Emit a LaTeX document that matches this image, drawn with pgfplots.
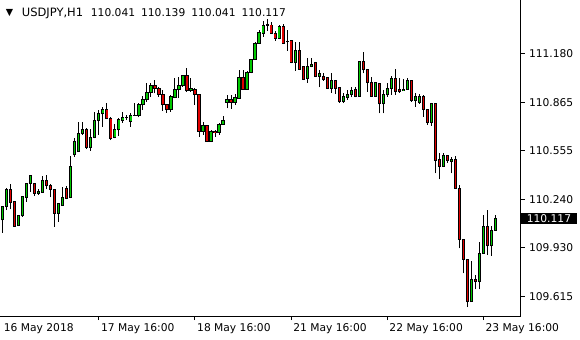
\documentclass[border=0pt]{standalone}
\usepackage{fontspec}
\setmainfont{DejaVu Sans}
\usepackage{pgfplots}
\usepackage{pgfplotstable}
\pgfplotsset{compat=1.18}
\definecolor{bull}{RGB}{0,200,0}
\definecolor{bear}{RGB}{225,0,0}
\newcommand\mt{\fontsize{10.7bp}{12bp}\selectfont}

\pgfplotstableread{
i o h l c
0 110.108 110.198 110.026 110.194
1 110.194 110.312 110.172 110.305
2 110.305 110.340 110.177 110.219
3 110.226 110.232 110.065 110.069
4 110.071 110.134 110.069 110.134
5 110.134 110.262 110.129 110.258
6 110.254 110.348 110.226 110.344
7 110.344 110.397 110.290 110.397
8 110.344 110.348 110.262 110.280
9 110.280 110.305 110.269 110.290
10 110.286 110.393 110.280 110.365
11 110.365 110.397 110.305 110.327
12 110.327 110.340 110.254 110.305
13 110.305 110.305 110.065 110.151
14 110.151 110.219 110.097 110.211
15 110.204 110.318 110.204 110.254
16 110.312 110.327 110.241 110.248
17 110.254 110.520 110.248 110.451
18 110.526 110.633 110.515 110.612
19 110.547 110.740 110.547 110.666
20 110.666 110.740 110.655 110.687
21 110.687 110.698 110.563 110.573
22 110.576 110.691 110.554 110.639
23 110.640 110.804 110.633 110.751
24 110.747 110.815 110.655 110.790
25 110.790 110.833 110.708 110.820
26 110.820 110.862 110.756 110.762
27 110.762 110.768 110.622 110.633
28 110.640 110.725 110.633 110.687
29 110.687 110.762 110.648 110.756
30 110.751 110.804 110.734 110.768
31 110.765 110.783 110.751 110.767
32 110.740 110.794 110.708 110.783
33 110.780 110.862 110.777 110.783
34 110.783 110.862 110.768 110.848
35 110.848 110.905 110.815 110.880
36 110.880 110.991 110.869 110.929
37 110.929 110.987 110.901 110.976
38 110.976 111.008 110.923 110.955
39 110.955 110.961 110.901 110.916
40 110.918 110.944 110.811 110.848
41 110.848 110.848 110.798 110.820
42 110.819 110.912 110.804 110.899
43 110.895 111.019 110.891 110.950
44 110.950 111.030 110.891 110.976
45 110.972 111.041 110.965 111.036
46 111.036 111.084 110.933 110.938
47 110.942 111.019 110.933 110.955
48 110.950 110.959 110.848 110.916
49 110.916 110.916 110.644 110.680
50 110.680 110.740 110.655 110.714
51 110.714 110.719 110.608 110.612
52 110.612 110.687 110.608 110.680
53 110.680 110.687 110.644 110.672
54 110.672 110.730 110.655 110.723
55 110.723 110.779 110.719 110.745
56 110.865 110.912 110.826 110.880
57 110.880 110.912 110.822 110.865
58 110.865 110.916 110.848 110.895
59 110.891 111.073 110.886 111.023
60 111.023 111.073 110.946 110.950
61 110.950 111.066 110.946 111.058
62 111.058 111.143 111.051 111.137
63 111.141 111.253 111.137 111.244
64 111.244 111.330 111.244 111.313
65 111.309 111.390 111.287 111.356
66 111.360 111.399 111.325 111.364
67 111.362 111.383 111.304 111.309
68 111.309 111.325 111.261 111.277
69 111.277 111.362 111.270 111.351
70 111.351 111.369 111.244 111.244
71 111.255 111.330 111.197 111.257
72 111.261 111.261 111.116 111.120
73 111.120 111.255 111.068 111.201
74 111.201 111.255 111.073 111.077
75 111.094 111.094 111.008 111.013
76 111.019 111.148 110.991 111.098
77 111.094 111.148 111.090 111.111
78 111.120 111.120 111.026 111.030
79 111.030 111.073 110.961 111.051
80 111.034 111.051 111.004 111.013
81 111.026 111.030 110.949 110.955
82 110.955 111.055 110.927 111.004
83 111.004 111.008 110.918 110.955
84 110.961 110.965 110.862 110.869
85 110.869 110.923 110.859 110.905
86 110.897 110.944 110.880 110.918
87 110.918 110.965 110.897 110.940
88 110.944 110.965 110.897 110.901
89 110.901 111.126 110.901 111.126
90 111.126 111.190 111.051 111.073
91 111.077 111.077 110.933 110.991
92 110.991 111.026 110.901 110.905
93 110.905 110.991 110.901 110.991
94 110.987 110.987 110.794 110.854
95 110.854 110.944 110.794 110.912
96 110.912 110.987 110.901 110.955
97 110.955 111.034 110.912 111.019
98 111.019 111.077 110.912 110.933
99 110.944 111.019 110.927 110.933
100 110.940 111.013 110.940 110.949
101 110.949 111.019 110.944 111.008
102 111.008 111.008 110.869 110.875
103 110.875 110.923 110.837 110.901
104 110.862 110.918 110.854 110.905
105 110.905 110.912 110.772 110.820
106 110.820 110.820 110.719 110.734
107 110.734 110.854 110.713 110.854
108 110.854 110.854 110.408 110.491
109 110.494 110.537 110.370 110.455
110 110.455 110.537 110.451 110.520
111 110.520 110.526 110.477 110.489
112 110.486 110.515 110.408 110.498
113 110.498 110.520 110.312 110.312
114 110.312 110.333 109.926 109.984
115 109.984 109.984 109.765 109.855
116 109.855 109.855 109.547 109.583
117 109.583 109.846 109.583 109.727
118 109.727 109.754 109.662 109.711
119 109.711 109.968 109.662 109.894
120 109.894 110.140 109.894 110.069
121 110.069 110.172 109.883 109.941
122 109.941 110.069 109.877 110.039
123 110.041 110.139 110.041 110.117
}\candles

\begin{document}
\begin{tikzpicture}
\path[use as bounding box] (0bp,0bp) rectangle (580bp,340bp);
\begin{axis}[
  at={(0bp,24bp)}, anchor=south west, scale only axis,
  width=520.5bp, height=316bp,
  xmin=-0.674, xmax=129.25, ymin=109.4906, ymax=111.5228,
  axis x line*=bottom, axis y line*=right,
  axis line style={black, line width=1bp},
  tick style={black, line width=1bp},
  tick align=outside, major tick length=4bp,
  xtick={24,48,72,96,120},
  xticklabels={17 May 16:00,18 May 16:00,21 May 16:00,22 May 16:00,23 May 16:00},
  xticklabel style={font=\mt, anchor=north west, inner sep=0pt, xshift=2bp, yshift=-3bp},
  extra x ticks={0}, extra x tick labels={16 May 2018},
  extra x tick style={major tick length=0pt, xticklabel style={xshift=-1bp, yshift=-4bp}},
  ytick={109.615,109.930,110.240,110.555,110.865,111.180},
  yticklabels={109.615,109.930,110.240,110.555,110.865,111.180},
  yticklabel style={font=\mt, anchor=west, inner sep=0pt, xshift=4.3bp},
  extra y ticks={110.117}, extra y tick labels={110.117},
  extra y tick style={major tick length=0pt, yticklabel style={fill=black, text=white, inner xsep=5.5bp, inner ysep=1.2bp, minimum width=56.5bp, xshift=-4.3bp}},
  error bars/y dir=plus, error bars/y explicit, error bars/error mark=none,
]
% wicks
\addplot[draw=none, mark=none, error bars/error bar style={draw=black, line width=1bp}]
  table[x=i, y=l, y error plus expr=\thisrow{h}-\thisrow{l}] {\candles};
% body outlines
\addplot[draw=none, mark=none, error bars/error bar style={draw=black, line width=3.2bp}]
  table[x=i, y expr={min(\thisrow{o},\thisrow{c})-0.0032}, y error plus expr={abs(\thisrow{c}-\thisrow{o})+0.0064}] {\candles};
% bull fills
\addplot[draw=none, mark=none, error bars/error bar style={draw=bull, line width=1.3bp}]
  table[x=i, y expr={\thisrow{c}>=\thisrow{o} ? \thisrow{o}+0.0032 : nan}, y error plus expr={max(\thisrow{c}-\thisrow{o}-0.0064,0)}] {\candles};
% bear fills
\addplot[draw=none, mark=none, error bars/error bar style={draw=bear, line width=1.3bp}]
  table[x=i, y expr={\thisrow{c}<\thisrow{o} ? \thisrow{c}+0.0032 : nan}, y error plus expr={max(\thisrow{o}-\thisrow{c}-0.0064,0)}] {\candles};
\end{axis}
\node[anchor=center, inner sep=0pt, font=\fontsize{9.5bp}{10bp}\selectfont] at (9.6bp,327bp) {▼};
\node[anchor=base west, inner sep=0pt, font=\fontsize{11.5bp}{12bp}\selectfont] at (21.7bp,323.3bp) {USDJPY,H1};
\node[anchor=base west, inner sep=0pt, font=\mt] at (90.7bp,323.3bp) {110.041\hspace{6bp}110.139\hspace{6bp}110.041\hspace{6bp}110.117};
\end{tikzpicture}
\end{document}
